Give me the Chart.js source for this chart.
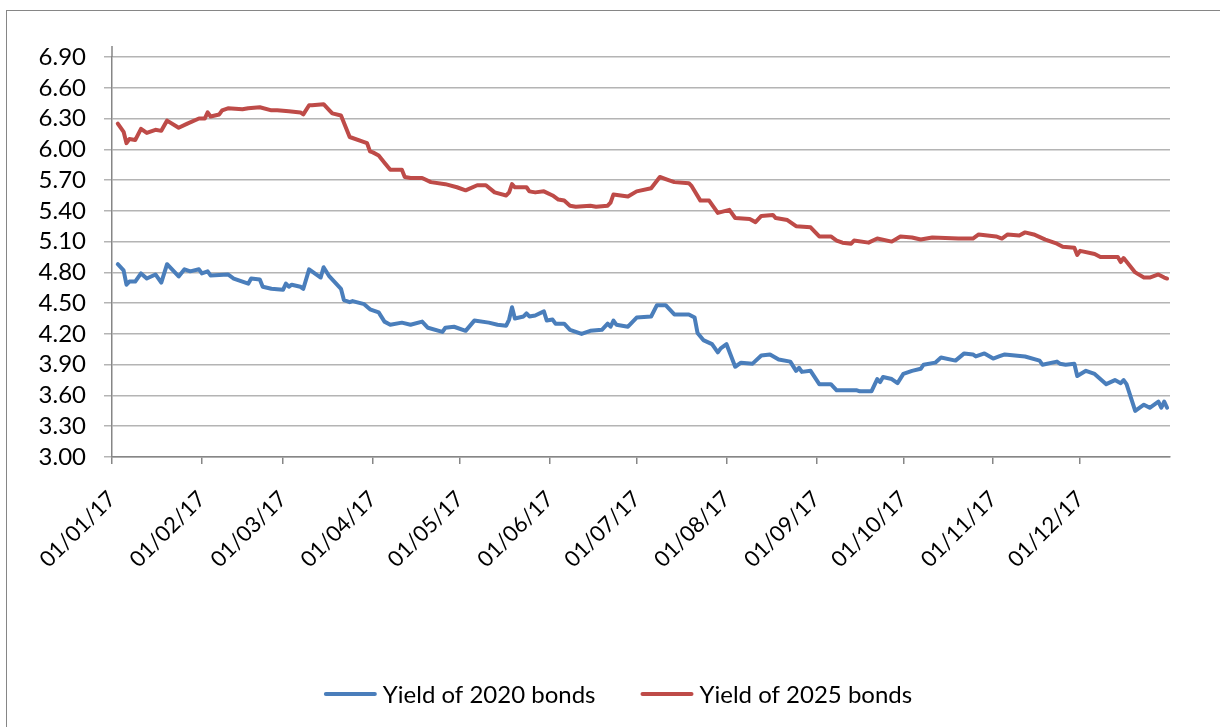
<!DOCTYPE html>
<html>
<head>
<meta charset="utf-8">
<title>Bond yields 2017</title>
<script src="https://cdn.jsdelivr.net/npm/chart.js@4.4.1/dist/chart.umd.min.js"></script>
<style>
  html, body { margin: 0; padding: 0; background: #fff; }
  #chart { display: block; }
</style>
</head>
<body>
<canvas id="chart" width="1220" height="727"></canvas>
<script>
// Day of year (0 = 1 Jan 2017) for each observation, with the yield in %
const days2020 = [2, 4, 5, 6, 8, 10, 12, 15, 17, 19, 23, 25, 27, 30, 31, 33, 34, 40, 42, 45, 47, 48, 51, 52, 55, 59, 60, 61, 62, 65, 66, 68, 72, 73, 75, 79, 80, 82, 83, 87, 89, 90, 92, 94, 96, 100, 103, 107, 109, 114, 115, 118, 122, 125, 130, 133, 136, 137, 138, 139, 142, 143, 144, 146, 149, 150, 152, 153, 156, 158, 162, 165, 169, 171, 172, 173, 174, 178, 181, 186, 188, 191, 194, 199, 201, 202, 204, 207, 209, 210, 212, 215, 217, 221, 224, 227, 230, 234, 236, 237, 238, 241, 244, 248, 250, 257, 258, 262, 264, 265, 266, 269, 271, 273, 276, 279, 280, 284, 286, 291, 294, 297, 298, 301, 304, 306, 308, 315, 320, 321, 326, 327, 329, 332, 333, 336, 339, 343, 346, 348, 349, 350, 353, 356, 358, 361, 362, 363, 364]
const yield2020 = [4.88, 4.82, 4.68, 4.71, 4.71, 4.79, 4.74, 4.78, 4.70, 4.88, 4.76, 4.83, 4.81, 4.83, 4.79, 4.81, 4.77, 4.78, 4.74, 4.71, 4.69, 4.74, 4.73, 4.66, 4.64, 4.63, 4.69, 4.66, 4.68, 4.66, 4.64, 4.83, 4.75, 4.85, 4.76, 4.64, 4.53, 4.51, 4.52, 4.49, 4.44, 4.43, 4.41, 4.32, 4.29, 4.31, 4.29, 4.32, 4.26, 4.22, 4.26, 4.27, 4.23, 4.33, 4.31, 4.29, 4.28, 4.34, 4.46, 4.35, 4.37, 4.40, 4.37, 4.38, 4.42, 4.33, 4.34, 4.30, 4.30, 4.24, 4.20, 4.23, 4.24, 4.30, 4.27, 4.33, 4.29, 4.27, 4.36, 4.37, 4.48, 4.48, 4.39, 4.39, 4.36, 4.21, 4.14, 4.10, 4.02, 4.06, 4.10, 3.88, 3.92, 3.91, 3.99, 4.00, 3.95, 3.93, 3.84, 3.87, 3.83, 3.84, 3.71, 3.71, 3.65, 3.65, 3.64, 3.64, 3.76, 3.73, 3.78, 3.76, 3.72, 3.81, 3.84, 3.86, 3.90, 3.92, 3.97, 3.94, 4.01, 4.00, 3.98, 4.01, 3.96, 3.98, 4.00, 3.98, 3.94, 3.90, 3.93, 3.91, 3.90, 3.91, 3.79, 3.84, 3.81, 3.71, 3.75, 3.72, 3.75, 3.71, 3.45, 3.51, 3.48, 3.54, 3.48, 3.54, 3.48]

const days2025 = [2, 4, 5, 6, 8, 10, 12, 15, 17, 19, 23, 26, 30, 32, 33, 34, 37, 38, 40, 45, 47, 51, 55, 57, 61, 65, 66, 68, 69, 73, 75, 76, 79, 82, 87, 88, 89, 90, 92, 94, 96, 100, 101, 103, 107, 110, 115, 119, 122, 126, 129, 132, 136, 137, 138, 139, 143, 144, 146, 149, 152, 154, 156, 158, 160, 165, 167, 171, 172, 173, 178, 181, 186, 189, 192, 194, 199, 200, 203, 206, 209, 213, 215, 220, 222, 224, 228, 229, 233, 236, 241, 244, 248, 250, 252, 255, 256, 261, 264, 269, 272, 276, 279, 283, 292, 297, 299, 305, 307, 309, 313, 315, 318, 322, 326, 328, 332, 333, 334, 339, 341, 347, 348, 349, 351, 353, 356, 358, 361, 363, 364]
const yield2025 = [6.25, 6.17, 6.06, 6.10, 6.09, 6.20, 6.16, 6.19, 6.18, 6.28, 6.21, 6.25, 6.30, 6.30, 6.36, 6.32, 6.34, 6.38, 6.40, 6.39, 6.40, 6.41, 6.38, 6.38, 6.37, 6.36, 6.34, 6.43, 6.43, 6.44, 6.38, 6.35, 6.33, 6.12, 6.07, 6.06, 5.98, 5.97, 5.94, 5.87, 5.80, 5.80, 5.73, 5.72, 5.72, 5.68, 5.66, 5.63, 5.60, 5.65, 5.65, 5.58, 5.55, 5.58, 5.66, 5.63, 5.63, 5.59, 5.58, 5.59, 5.55, 5.51, 5.50, 5.45, 5.44, 5.45, 5.44, 5.45, 5.48, 5.56, 5.54, 5.59, 5.62, 5.73, 5.70, 5.68, 5.67, 5.64, 5.50, 5.50, 5.38, 5.41, 5.33, 5.32, 5.29, 5.35, 5.36, 5.33, 5.31, 5.25, 5.24, 5.15, 5.15, 5.11, 5.09, 5.08, 5.11, 5.09, 5.13, 5.10, 5.15, 5.14, 5.12, 5.14, 5.13, 5.13, 5.17, 5.15, 5.13, 5.17, 5.16, 5.19, 5.17, 5.12, 5.08, 5.05, 5.04, 4.97, 5.01, 4.98, 4.95, 4.95, 4.90, 4.94, 4.87, 4.80, 4.75, 4.75, 4.78, 4.75, 4.74]

// Month starts on the date axis and their labels
const monthDays = [0, 31, 59, 90, 120, 151, 181, 212, 243, 273, 304, 334]
const monthLabels = ["01/01/17", "01/02/17", "01/03/17", "01/04/17", "01/05/17", "01/06/17",
  "01/07/17", "01/08/17", "01/09/17", "01/10/17", "01/11/17", "01/12/17"]

// Value axis ticks
const yTicks = [3.00, 3.30, 3.60, 3.90, 4.20, 4.50, 4.80, 5.10, 5.40, 5.70, 6.00, 6.30, 6.60, 6.90]

const seriesNames = ["Yield of 2020 bonds", "Yield of 2025 bonds"]
const BLUE = "#4a7ebb"
const RED = "#be4b48"
const AXIS = "#868686"
const FONT = "Lato, 'Open Sans', sans-serif"

function toPoints(days, values) {
  return days.map((d, i) => ({ x: d, y: values[i] }))
}

// White background, outer frame, the stub of the value axis above the top gridline,
// and an Excel-like legend (line sample right next to its text) under the chart
const frame = {
  id: "frame",
  beforeDraw(chart) {
    const ctx = chart.ctx
    ctx.save()
    ctx.fillStyle = "#fff"
    ctx.fillRect(0, 0, chart.width, chart.height)
    ctx.strokeStyle = AXIS
    ctx.lineWidth = 1
    ctx.strokeRect(6.5, 10.5, chart.width + 20, chart.height + 20)
    ctx.restore()
  },
  afterDraw(chart) {
    const { left, top } = chart.chartArea
    const ctx = chart.ctx
    ctx.save()
    ctx.strokeStyle = AXIS
    ctx.lineWidth = 1.5
    ctx.beginPath()
    ctx.moveTo(left, top - 11)
    ctx.lineTo(left, top)
    ctx.stroke()

    // legend
    const sample = 53, gap = 6, spacing = 45, y = 694
    ctx.font = "24px " + FONT
    ctx.textBaseline = "middle"
    const items = chart.data.datasets.map((ds) => ({
      text: ds.label, color: ds.borderColor, w: ctx.measureText(ds.label).width,
    }))
    const total = items.reduce((s, it) => s + sample + gap + it.w, 0) + spacing * (items.length - 1)
    let x = 618 - total / 2
    items.forEach((it) => {
      ctx.strokeStyle = it.color
      ctx.lineWidth = 4
      ctx.lineCap = "round"
      ctx.beginPath()
      ctx.moveTo(x + 2, y)
      ctx.lineTo(x + sample - 2, y)
      ctx.stroke()
      ctx.fillStyle = "#000"
      ctx.fillText(it.text, x + sample + gap, y + 1)
      x += sample + gap + it.w + spacing
    })
    ctx.restore()
  },
}

Chart.defaults.font.family = FONT
Chart.defaults.font.size = 24
Chart.defaults.color = "#000"

new Chart(document.getElementById("chart"), {
  type: "line",
  data: {
    datasets: [
      {
        label: seriesNames[0],
        data: toPoints(days2020, yield2020),
        borderColor: BLUE,
        backgroundColor: BLUE,
        borderWidth: 4,
      },
      {
        label: seriesNames[1],
        data: toPoints(days2025, yield2025),
        borderColor: RED,
        backgroundColor: RED,
        borderWidth: 4,
      },
    ],
  },
  options: {
    responsive: false,
    animation: false,
    devicePixelRatio: 1,
    elements: {
      point: { radius: 0, hoverRadius: 0 },
      line: { tension: 0, borderJoinStyle: "round", borderCapStyle: "round" },
    },
    layout: { padding: { top: 57, right: 50, bottom: 125, left: 0 } },
    scales: {
      x: {
        type: "linear",
        min: 0,
        max: 365,
        afterFit: (scale) => { scale.height = 145 },
        afterBuildTicks: (scale) => { scale.ticks = monthDays.map((v) => ({ value: v })) },
        grid: { drawOnChartArea: false, color: AXIS, lineWidth: 1.5, tickLength: 7 },
        border: { color: AXIS, width: 1.5 },
        ticks: {
          autoSkip: false,
          minRotation: 45,
          maxRotation: 45,
          padding: 22,
          font: { size: 22 },
          callback: (value) => monthLabels[monthDays.indexOf(value)],
        },
      },
      y: {
        min: 3,
        max: 6.9,
        afterFit: (scale) => { scale.width = 112 },
        afterBuildTicks: (scale) => { scale.ticks = yTicks.map((v) => ({ value: v })) },
        grid: { color: "#b4b4b4", lineWidth: 1.5, tickLength: 8 },
        border: { color: AXIS, width: 1.5 },
        ticks: { autoSkip: false, padding: 18, callback: (value) => value.toFixed(2) },
      },
    },
    plugins: {
      legend: { display: false },
      tooltip: { enabled: false },
    },
  },
  plugins: [frame],
})
</script>
</body>
</html>
